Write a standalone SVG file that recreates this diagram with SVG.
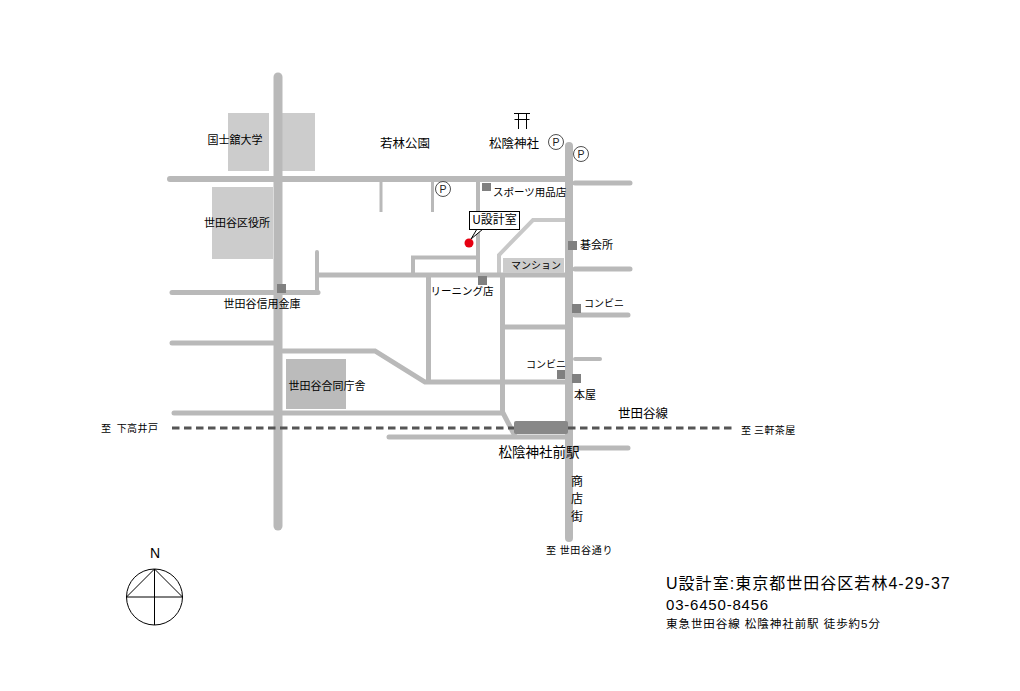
<svg xmlns="http://www.w3.org/2000/svg" width="1020" height="691" viewBox="0 0 1020 691">
<style>
text{font-family:"Noto Sans CJK JP","Liberation Sans",sans-serif;font-size:11px;fill:#000}
.foot{font-family:"Liberation Sans","Noto Sans CJK JP",sans-serif}
.s10{font-size:10px}.s12{font-size:12px}
.to{font-size:10px;letter-spacing:.7px}
.b1{fill:#ccc}.b2{fill:#bbb}
.sq{fill:#808080}
.r{fill:none;stroke:#b9b9b9;stroke-linecap:round;stroke-linejoin:miter}
.w9{stroke-width:9}.w8{stroke-width:8}.w6{stroke-width:6}.w5{stroke-width:5}.w4{stroke-width:4}.w3{stroke-width:3}
.ln{fill:none;stroke:#000;stroke-width:1}
.p{fill:#fff;stroke:#222;stroke-width:.8}
.pt{font-size:10.500px;fill:#222;text-anchor:middle;font-family:"Liberation Sans",sans-serif}
</style>
<defs><clipPath id="cut"><rect x="426" y="280" width="80" height="20"/></clipPath></defs>
<rect width="1020" height="691" fill="#fff"/>
<g id="building-kokushikan-a"><rect class="b1" x="228" y="113" width="41" height="58"/></g>
<g id="building-kokushikan-b"><rect class="b1" x="282" y="113" width="33" height="58"/></g>
<g id="building-ward-office"><rect class="b1" x="212" y="187" width="61" height="72"/></g>
<g id="building-godo"><rect class="b2" x="286" y="359" width="60" height="50"/></g>
<g id="node-cleaning-label"><text x="420" y="295" clip-path="url(#cut)" style="font-size:10.500px">クリーニング店</text></g>
<g id="connectors">
<path class="r w4" style="stroke:#c8c8c8" d="M568 220H533L499 255V273"/>
<path class="r w6" d="M170 179H568"/>
<path class="r w5" d="M575 183H630M575 269H630M575 315H628M575 448H628"/>
<path class="r w4" d="M575 359H600"/>
<path class="r w3" style="stroke-linecap:butt" d="M381 180V212M432.500 180V212"/>
<path class="r w4" style="stroke-linecap:butt" d="M478 180V275"/>
<path class="r w4" d="M317 252V292"/>
<path class="r w5" d="M172 292.500H318"/>
<path class="r w5" d="M318 275H568"/>
<path class="r w4" style="stroke-linecap:butt" d="M413 275V257.500H478"/>
<path class="r w5" style="stroke-linecap:butt" d="M428.500 275V382"/>
<path class="r w5" style="stroke-linecap:butt" d="M502.500 275V412L515 436"/>
<path class="r w5" d="M503 327H568"/>
<path class="r w5" d="M283 351H375L425 382H568"/>
<path class="r w5" d="M172 343H278"/>
<path class="r w5" d="M174 413H502"/>
<path class="r w5" d="M389 437H568"/>
<path class="r w9" d="M278 77V526"/>
<path class="r w8" d="M569 146V538"/>
<path d="M172 428H732" fill="none" stroke="#555" stroke-width="3" stroke-dasharray="7.500 4.500"/>
</g>
<g id="station"><rect x="514" y="421" width="54" height="13" rx="2" fill="#888"/><text x="539" y="457" text-anchor="middle" style="font-size:13.500px">松陰神社前駅</text></g>
<g id="kokushikan-label"><text x="235" y="144" text-anchor="middle">国士舘大学</text></g>
<g id="ward-office-label"><text x="237" y="227" text-anchor="middle">世田谷区役所</text></g>
<g id="shinkin"><rect class="sq" x="277" y="284" width="9" height="9"/><text x="262" y="308" text-anchor="middle">世田谷信用金庫</text></g>
<g id="godo-label"><text x="327" y="390" text-anchor="middle">世田谷合同庁舎</text></g>
<g id="park"><text x="405" y="148" text-anchor="middle" class="s12" style="font-size:12.500px">若林公園</text></g>
<g id="shrine"><text x="514" y="148" text-anchor="middle" class="s12" style="font-size:12.500px">松陰神社</text><path class="ln" d="M514 113.500H530M514.500 119.500H529.500M518.500 113V129M526.500 113V129"/></g>
<g id="parking-1"><circle class="p" cx="556" cy="142" r="7.500"/><text class="pt" x="556" y="146">P</text></g>
<g id="parking-2"><circle class="p" cx="581" cy="154" r="7.500"/><text class="pt" x="581" y="158">P</text></g>
<g id="parking-3"><circle class="p" cx="443" cy="189" r="7.500"/><text class="pt" x="443" y="193">P</text></g>
<g id="sports"><rect class="sq" x="482" y="183" width="9" height="8"/><text x="493" y="196" style="font-size:10.500px">スポーツ用品店</text></g>
<g id="cleaning"><rect class="sq" x="478" y="276" width="9" height="9"/></g>
<g id="go-club"><rect class="sq" x="568" y="241" width="9" height="9"/><text x="580" y="249">碁会所</text></g>
<g id="mansion"><rect class="b1" x="503" y="258" width="61" height="15"/><text x="536" y="269" text-anchor="middle" class="s10">マンション</text></g>
<g id="konbini-1"><rect class="sq" x="572" y="304" width="9" height="9"/><text x="584" y="307" class="s10">コンビニ</text></g>
<g id="konbini-2"><rect class="sq" x="557" y="370" width="8" height="9"/><text x="526" y="368" class="s10">コンビニ</text></g>
<g id="bookstore"><rect class="sq" x="572" y="374" width="9" height="9"/><text x="574" y="399">本屋</text></g>
<g id="line-label"><text x="618" y="418" class="s12" style="font-size:12.500px">世田谷線</text></g>
<g id="to-shimotakaido"><text x="101" y="432" class="to" style="letter-spacing:.4px" xml:space="preserve">至  下高井戸</text></g>
<g id="to-sangenjaya"><text x="741" y="434" class="to" style="letter-spacing:.4px">至 三軒茶屋</text></g>
<g id="shopping-street"><text x="577" y="486" text-anchor="middle" class="s12">商</text><text x="577" y="503" text-anchor="middle" class="s12">店</text><text x="577" y="521" text-anchor="middle" class="s12">街</text></g>
<g id="to-setagaya-dori"><text x="546" y="554" class="to">至 世田谷通り</text></g>
<g id="office"><path d="M477 229L471 239L483 229Z" fill="#fff" stroke="#000" stroke-width="1"/><path d="M477 229H483" stroke="#fff" stroke-width="2"/><rect x="469.500" y="211.500" width="50" height="18" fill="#fff" stroke="#000"/><text x="494.500" y="224" text-anchor="middle" class="s12">U設計室</text><circle cx="469" cy="243" r="4.500" fill="#e60012"/></g>
<g id="compass"><text x="155" y="558" text-anchor="middle" class="foot" style="font-size:14px">N</text><circle class="ln" cx="154.500" cy="597" r="28"/><path class="ln" d="M126.500 597H182.500M154.500 569V625M154.500 569L126.500 597M154.500 569L182.500 597"/></g>
<g id="address"><text x="666" y="589" class="foot" style="font-size:16px;letter-spacing:1.03px">U設計室:東京都世田谷区若林4-29-37</text><text x="666" y="610" class="foot" style="font-size:15px;letter-spacing:.8px">03-6450-8456</text><text x="666" y="628" class="foot" style="font-size:11.500px;letter-spacing:.95px">東急世田谷線 松陰神社前駅 徒歩約5分</text></g>
</svg>
